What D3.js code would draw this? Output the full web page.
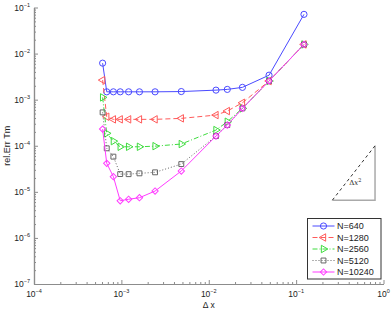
<!DOCTYPE html>
<html>
<head>
<meta charset="utf-8">
<script src="https://cdn.jsdelivr.net/npm/d3@7"></script>
<style>
body { margin: 0; background: #fff; }
text { font-family: "Liberation Sans", Arial, sans-serif; fill: #222; }
</style>
</head>
<body>
<div id="chart"></div>
<script>
// grid spacing (same for every run)
var dx = [6.1e-4, 6.8e-4, 8.1e-4, 9.7e-4, 1.21e-3, 1.61e-3, 2.43e-3, 4.85e-3, 1.21e-2, 1.63e-2, 2.43e-2, 4.9e-2, 0.123];

var errN640   = [6.2e-3, 1.48e-3, 1.48e-3, 1.48e-3, 1.48e-3, 1.48e-3, 1.48e-3, 1.5e-3, 1.61e-3, 1.67e-3, 1.85e-3, 3.4e-3, 7.1e-2];
var errN1280  = [2.66e-3, 4.26e-4, 3.74e-4, 3.74e-4, 3.74e-4, 3.74e-4, 3.74e-4, 3.93e-4, 4.63e-4, 5.66e-4, 8.57e-4, 2.54e-3, 1.58e-2];
var errN2560  = [1.12e-3, 1.86e-4, 1.26e-4, 9.5e-5, 9.5e-5, 9.5e-5, 9.8e-5, 1.09e-4, 2.19e-4, 3.32e-4, 6.47e-4, 2.54e-3, 1.58e-2];
var errN5120  = [5.3e-4, 8.8e-5, 5.8e-5, 2.43e-5, 2.42e-5, 2.52e-5, 2.65e-5, 4.0e-5, 1.62e-4, 2.81e-4, 6.47e-4, 2.54e-3, 1.58e-2];
var errN10240 = [2.3e-4, 4.15e-5, 2.13e-5, 6.4e-6, 6.9e-6, 7.45e-6, 1.04e-5, 2.83e-5, 1.62e-4, 2.81e-4, 6.47e-4, 2.54e-3, 1.58e-2];

var seriesNames = ["N=640", "N=1280", "N=2560", "N=5120", "N=10240"];
var xTickExp = [-4, -3, -2, -1, 0];
var yTickExp = [-7, -6, -5, -4, -3, -2, -1];

// slope triangle (data coords)
var triX = [0.26, 0.8];
var triY = [6.6e-6, 1.0e-4];

function init() {
    var w = 392, h = 310;
    var mLeft = 34, mRight = 383.5, mTop = 7.5, mBottom = 284;

    var svg = d3.select("#chart").append("svg")
        .attr("width", w)
        .attr("height", h);

    var x = d3.scaleLog().domain([1e-4, 1]).range([mLeft, mRight]);
    var y = d3.scaleLog().domain([1e-7, 1e-1]).range([mBottom, mTop]);

    var series = [
        {name: seriesNames[0], vals: errN640,   color: "#4a4aff", dash: null,      mark: "circle"},
        {name: seriesNames[1], vals: errN1280,  color: "#ff5a5a", dash: "5,3",     mark: "left"},
        {name: seriesNames[2], vals: errN2560,  color: "#3fdc3f", dash: "5,2,1,2", mark: "right"},
        {name: seriesNames[3], vals: errN5120,  color: "#666666", dash: "1,2",     mark: "square"},
        {name: seriesNames[4], vals: errN10240, color: "#ff3cff", dash: null,      mark: "diamond"}
    ];

    function markerPath(m) {
        if (m == "circle") return d3.symbol().type(d3.symbolCircle).size(30)();
        if (m == "square") return d3.symbol().type(d3.symbolSquare).size(24)();
        if (m == "diamond") return d3.symbol().type(d3.symbolSquare).size(20)();
        return d3.symbol().type(d3.symbolTriangle).size(24)();
    }
    function markerRot(m) {
        if (m == "left") return -90;
        if (m == "right") return 90;
        if (m == "diamond") return 45;
        return 0;
    }

    // minor ticks
    var minor = [];
    for (var e = -4; e < 0; e++) for (var k = 2; k < 10; k++) minor.push(k * Math.pow(10, e));
    var minorY = [];
    for (var e = -7; e < -1; e++) for (var k = 2; k < 10; k++) minorY.push(k * Math.pow(10, e));

    var axisCol = "#8c8c8c";

    svg.append("g").attr("transform", "translate(0," + mBottom + ")")
        .call(d3.axisBottom(x).tickValues(minor).tickSize(-2).tickSizeOuter(0).tickFormat(""));
    svg.append("g").attr("transform", "translate(0," + mBottom + ")")
        .call(d3.axisBottom(x).tickValues(xTickExp.map(function(d){ return Math.pow(10, d); }))
            .tickSize(-4).tickSizeOuter(0).tickFormat(""));

    svg.append("g").attr("transform", "translate(" + mLeft + ",0)")
        .call(d3.axisLeft(y).tickValues(minorY).tickSize(-2).tickSizeOuter(0).tickFormat(""));
    svg.append("g").attr("transform", "translate(" + mLeft + ",0)")
        .call(d3.axisLeft(y).tickValues(yTickExp.map(function(d){ return Math.pow(10, d); }))
            .tickSize(-4).tickSizeOuter(0).tickFormat(""));

    svg.selectAll(".domain").attr("stroke", axisCol).attr("stroke-width", 1.2);
    svg.selectAll(".tick line").attr("stroke", axisCol);

    // tick labels 10^e
    xTickExp.forEach(function(e) {
        var t = svg.append("text")
            .attr("x", x(Math.pow(10, e)))
            .attr("y", mBottom + 13)
            .attr("text-anchor", "middle")
            .style("font-size", "8.5px");
        t.append("tspan").text("10");
        t.append("tspan").attr("dy", -4).style("font-size", "5.5px").text(e == 0 ? "0" : "\u2212" + (-e));
    });
    yTickExp.forEach(function(e) {
        var t = svg.append("text")
            .attr("x", mLeft - 4)
            .attr("y", y(Math.pow(10, e)) + 3)
            .attr("text-anchor", "end")
            .style("font-size", "8.5px");
        t.append("tspan").text("10");
        t.append("tspan").attr("dy", -4).style("font-size", "5.5px").text("\u2212" + (-e));
    });

    svg.append("text")
        .attr("transform", "translate(10," + ((mTop + mBottom) / 2) + ") rotate(-90)")
        .attr("text-anchor", "middle")
        .style("font-size", "9px")
        .text("rel.Err Tm");

    svg.append("text")
        .attr("x", (mLeft + mRight) / 2)
        .attr("y", 307.5)
        .attr("text-anchor", "middle")
        .style("font-size", "8.5px")
        .text("\u0394 x");

    // data
    var line = d3.line()
        .x(function(d) { return x(d[0]); })
        .y(function(d) { return y(d[1]); });

    series.forEach(function(s) {
        var pts = dx.map(function(v, i) { return [v, s.vals[i]]; });
        svg.append("path")
            .datum(pts)
            .attr("d", line)
            .attr("fill", "none")
            .attr("stroke", s.color)
            .attr("stroke-width", 1)
            .attr("stroke-dasharray", s.dash);
        svg.selectAll(null)
            .data(pts)
            .enter()
            .append("path")
            .attr("d", markerPath(s.mark))
            .attr("transform", function(d) {
                return "translate(" + x(d[0]) + "," + y(d[1]) + ") rotate(" + markerRot(s.mark) + ")";
            })
            .attr("fill", "none")
            .attr("stroke", s.color)
            .attr("stroke-width", 1);
    });

    // slope triangle
    svg.append("path")
        .attr("d", "M" + x(triX[0]) + "," + y(triY[0]) + "H" + x(triX[1]) + "V" + y(triY[1]))
        .attr("fill", "none")
        .attr("stroke", "#aaaaaa")
        .attr("stroke-width", 1.5);
    svg.append("line")
        .attr("x1", x(triX[0])).attr("y1", y(triY[0]))
        .attr("x2", x(triX[1])).attr("y2", y(triY[1]))
        .attr("stroke", "#333")
        .attr("stroke-dasharray", "3,3");
    var lab = svg.append("text")
        .attr("x", x(0.475))
        .attr("y", y(1.4e-5))
        .attr("text-anchor", "middle")
        .style("font-family", "'DejaVu Serif', serif")
        .style("font-size", "7px");
    lab.append("tspan").text("\u0394");
    lab.append("tspan").style("font-style", "italic").text("x");
    lab.append("tspan").attr("dy", -3).style("font-size", "5px").text("2");

    // legend
    var lg = svg.append("g").attr("transform", "translate(307.5,218.5)");
    lg.append("rect")
        .attr("width", 73.5)
        .attr("height", 60.5)
        .attr("fill", "#fff")
        .attr("stroke", "#333")
        .attr("stroke-width", 1);
    series.forEach(function(s, i) {
        var yy = 7.5 + i * 11.5;
        lg.append("line")
            .attr("x1", 5).attr("x2", 27)
            .attr("y1", yy).attr("y2", yy)
            .attr("stroke", s.color)
            .attr("stroke-dasharray", s.dash);
        lg.append("path")
            .attr("d", markerPath(s.mark))
            .attr("transform", "translate(16," + yy + ") rotate(" + markerRot(s.mark) + ")")
            .attr("fill", "none")
            .attr("stroke", s.color);
        lg.append("text")
            .attr("x", 29.5)
            .attr("y", yy + 3.3)
            .style("font-size", "9px")
            .text(s.name);
    });
}

window.onload = init;
</script>
</body>
</html>
